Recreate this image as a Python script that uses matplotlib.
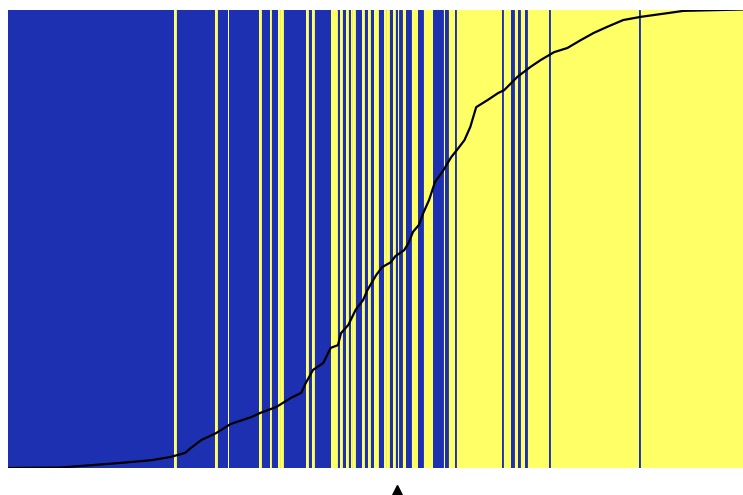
import matplotlib
matplotlib.use('Agg')
import matplotlib.pyplot as plt
import matplotlib.transforms as mtransforms

# run lengths of the true class along the sorted samples, starting with class 0
class_runs = [113, 1, 27, 1, 29, 1, 6, 1, 5, 1, 1, 1, 16, 1, 3, 1, 12, 4, 2, 1,
              3, 1, 2, 1, 1, 1, 5, 1, 3, 1, 3, 3, 4, 1, 1, 1, 3, 1, 2, 1,
              2, 3, 3, 5, 3, 7, 7, 1, 2, 5, 1, 31, 1, 5, 2, 3, 1, 4, 1, 15,
              1, 60, 1, 70]

# sorted predicted probability
curve_idx = [0, 35, 76, 97, 110, 120, 124, 131, 141, 151, 165, 171, 182, 192,
             199, 202, 207, 214, 219, 224, 226, 231, 236, 241, 244, 250, 254,
             260, 263, 269, 272, 275, 279, 282, 286, 290, 295, 301, 305, 310,
             314, 318, 326, 333, 337, 346, 355, 362, 371, 380, 389, 398, 407,
             418, 430, 448, 459, 499]
curve_prob = [0.000, 0.001, 0.011, 0.017, 0.024, 0.033, 0.044, 0.061, 0.076,
              0.096, 0.111, 0.120, 0.133, 0.153, 0.164, 0.185, 0.214, 0.229,
              0.262, 0.268, 0.294, 0.312, 0.345, 0.366, 0.388, 0.421, 0.438,
              0.449, 0.462, 0.475, 0.491, 0.515, 0.530, 0.556, 0.585, 0.624,
              0.646, 0.678, 0.694, 0.715, 0.744, 0.787, 0.803, 0.818, 0.824,
              0.853, 0.875, 0.890, 0.907, 0.916, 0.933, 0.949, 0.962, 0.977,
              0.984, 0.992, 0.997, 1.000]

blue = '#1e30b2'
yellow = '#ffff66'

labels = []
for k, n in enumerate(class_runs):
    labels += [k % 2] * n
N = len(labels)
n_neg = labels.count(0)

fig = plt.figure(figsize=(7.43, 4.95), dpi=100)
ax = fig.add_axes([8 / 743, 27 / 495, 735 / 743, 458.5 / 495])

colors = [blue if c == 0 else yellow for c in labels]
ax.bar(range(N), [1] * N, width=1.0, bottom=0, color=colors, linewidth=0)

# redraw the "misplaced" samples on top so thin ones stay visible
odd = [i for i in range(N) if (labels[i] == 1) == (i < n_neg)]
odd_col = [colors[i] for i in odd]
ax.bar(odd, [1] * len(odd), width=1.0, bottom=0, color=odd_col,
       edgecolor=odd_col, linewidth=0.6)

ax.plot(curve_idx, curve_prob, color='black', lw=1.6)

ax.set_xlim(-0.5, N - 0.5)
ax.set_ylim(0, 1)
ax.axis('off')

# marker for the number of negatives
trans = mtransforms.blended_transform_factory(ax.transData, ax.transAxes)
ax.plot([n_neg - 2], [-0.048], marker='^', color='black', markersize=7,
        transform=trans, clip_on=False)

fig.savefig('out.png', dpi=100)
